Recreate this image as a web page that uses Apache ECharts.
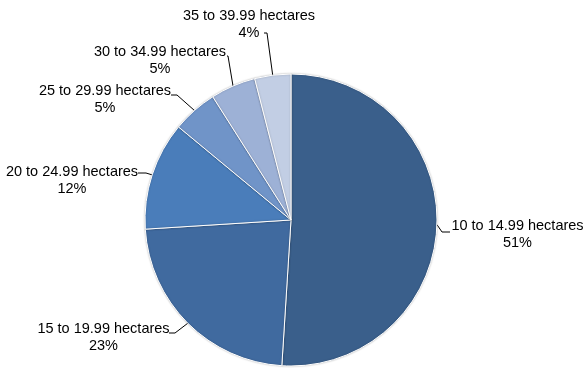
<!DOCTYPE html>
<html><head><meta charset="utf-8">
<script src="https://cdn.jsdelivr.net/npm/echarts@6/dist/echarts.min.js"></script>
<style>html,body{margin:0;padding:0;background:#fff}#c{width:585px;height:368px}</style>
</head><body><div id="c"></div>
<script>
const categories = ['10 to 14.99 hectares','15 to 19.99 hectares','20 to 24.99 hectares','25 to 29.99 hectares','30 to 34.99 hectares','35 to 39.99 hectares'];
const values = [51, 23, 12, 5, 5, 4];
const colors = ['#3A5F8B','#406A9F','#4A7DBA','#7094C8','#9DB1D6','#C2CEE4'];

// label placement (layout only): centre of each label block, and the bend/end of its leader line
const labelCenters = [[517.5,234.5],[103.5,337],[72,180],[105,99.5],[160,60],[249,24.5]];
const leaderEnds = [
  [[442,232],[450,232]],
  [[175,333],[169,333]],
  [[146,173],[138,173]],
  [[177,95],[171,95]],
  [[228,56],[227,56]],
  [[267,33],[264,33]]
];

const chart = echarts.init(document.getElementById('c'), null, {renderer:'canvas'});
chart.setOption({
  animation:false,
  series:[{
    type:'pie',
    center:[291,220],
    radius:146,
    startAngle:90,
    clockwise:true,
    avoidLabelOverlap:false,
    data: categories.map((n,i)=>({name:n, value:values[i], itemStyle:{color:colors[i]}})),
    itemStyle:{borderColor:'#fff', borderWidth:1, shadowColor:'rgba(0,0,0,0.25)', shadowBlur:2},
    label:{
      show:true, position:'outside',
      formatter: p => p.name + '\n' + p.value + '%',
      fontFamily:'Liberation Sans, Arial, sans-serif', fontSize:14.5, color:'#000',
      lineHeight:17, align:'center'
    },
    labelLine:{show:true, length:10, length2:6, smooth:false, lineStyle:{color:'#000', width:1}},
    labelLayout: function (p) {
      const i = p.dataIndex;
      const start = p.labelLinePoints ? p.labelLinePoints[0] : null;
      const out = {x: labelCenters[i][0], y: labelCenters[i][1], align:'center', verticalAlign:'middle', hideOverlap:false, moveOverlap:null};
      if (start) out.labelLinePoints = [start, leaderEnds[i][0], leaderEnds[i][1]];
      return out;
    },
    emphasis:{disabled:true}
  }]
});
</script></body></html>
